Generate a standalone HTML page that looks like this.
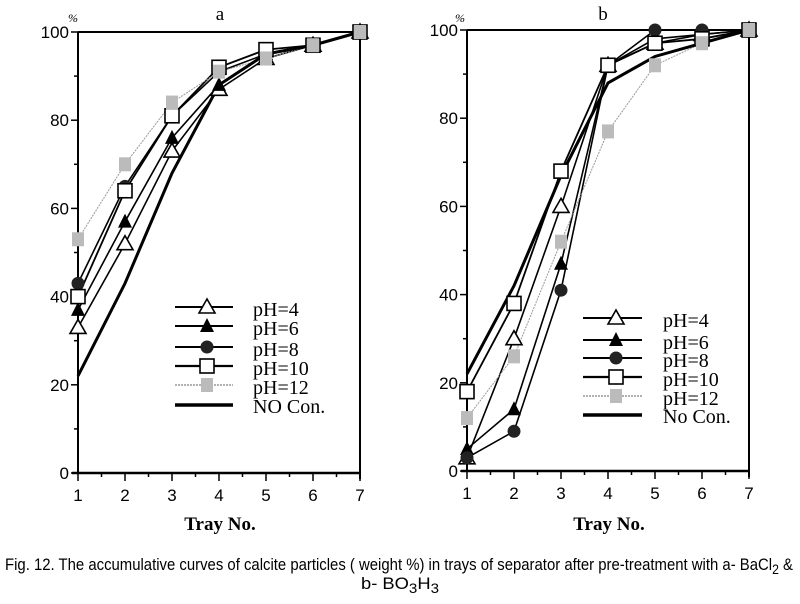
<!DOCTYPE html>
<html><head><meta charset="utf-8"><style>
html,body{margin:0;padding:0;background:#fff;width:800px;height:604px;overflow:hidden}
svg{display:block}
</style></head><body>
<svg id="s" width="800" height="604" xmlns="http://www.w3.org/2000/svg" font-family="Liberation Sans, sans-serif">
<text x="220" y="20" font-family="Liberation Serif, serif" font-size="19" text-anchor="middle">a</text>
<text x="603" y="20" font-family="Liberation Serif, serif" font-size="19" text-anchor="middle">b</text>
<text x="73" y="22" font-family="Liberation Serif, serif" font-style="italic" font-size="12" text-anchor="middle">%</text>
<text x="460" y="22" font-family="Liberation Serif, serif" font-style="italic" font-size="12" text-anchor="middle">%</text>
<text x="220" y="530" font-family="Liberation Serif, serif" font-weight="bold" font-size="19" text-anchor="middle">Tray No.</text>
<text x="609" y="530" font-family="Liberation Serif, serif" font-weight="bold" font-size="19" text-anchor="middle">Tray No.</text>
<text x="5" y="570" font-size="17" textLength="788" lengthAdjust="spacingAndGlyphs">Fig. 12. The accumulative curves of calcite particles ( weight %) in trays of separator after pre-treatment with a- BaCl<tspan dy="4" font-size="14">2</tspan><tspan dy="-4"> &amp;</tspan></text>
<text x="400" y="589" font-size="17" text-anchor="middle" textLength="78" lengthAdjust="spacingAndGlyphs">b- BO<tspan dy="4" font-size="14">3</tspan><tspan dy="-4">H</tspan><tspan dy="4" font-size="14">3</tspan></text>
</svg>
<script>
const s=document.getElementById('s');const NS='http://www.w3.org/2000/svg';
function el(t,a,txt){const e=document.createElementNS(NS,t);for(const k in a)e.setAttribute(k,a[k]);if(txt!=null)e.textContent=txt;s.appendChild(e);return e;}
function marker(type,x,y){
 if(type==='tri')el('polygon',{points:`${x},${y-8} ${x-8},${y+6} ${x+8},${y+6}`,fill:'#fff',stroke:'#000','stroke-width':1.6});
 if(type==='ftri')el('polygon',{points:`${x},${y-8} ${x-7},${y+6} ${x+7},${y+6}`,fill:'#000'});
 if(type==='circ')el('circle',{cx:x,cy:y,r:6.5,fill:'#222'});
 if(type==='sq')el('rect',{x:x-7,y:y-7,width:14,height:14,fill:'#fff',stroke:'#000','stroke-width':1.6});
 if(type==='gsq')el('rect',{x:x-6,y:y-7,width:12,height:14,fill:'#bbb'});
}
function chart(x0,y0,data,leg){
 const xs=i=>x0+(i-1)*47, ys=v=>y0-v*4.41;
 el('line',{x1:x0,y1:ys(100),x2:xs(7),y2:ys(100),stroke:'#000','stroke-width':2});
 el('line',{x1:x0,y1:ys(100),x2:x0,y2:y0,stroke:'#000','stroke-width':2});
 el('line',{x1:xs(7),y1:ys(100),x2:xs(7),y2:y0+6,stroke:'#000','stroke-width':2});
 el('line',{x1:x0-6,y1:y0,x2:xs(7),y2:y0,stroke:'#000','stroke-width':2.5});
 for(let v=0;v<=100;v+=10){const y=ys(v);el('line',{x1:x0-(v%20?4:7),y1:y,x2:x0,y2:y,stroke:'#000','stroke-width':1.5});
  if(v%20==0)el('text',{x:x0-9,y:y+6,'font-size':17,'text-anchor':'end'},v);}
 for(let i=1;i<=7;i+=0.5){const x=xs(i);el('line',{x1:x,y1:y0,x2:x,y2:y0+(i%1?4:8),stroke:'#000','stroke-width':1.5});
  if(i%1==0)el('text',{x:x,y:y0+28,'font-size':17,'text-anchor':'middle'},i);}
 data.forEach(d=>{const pts=d.v.map((v,i)=>xs(i+1)+','+ys(v)).join(' ');
  el('polyline',{points:pts,fill:'none',stroke:d.c,'stroke-width':d.w,'stroke-dasharray':d.da||'none'});});
 data.forEach(d=>{if(d.m)d.v.forEach((v,i)=>marker(d.m,xs(i+1),ys(v)));});
 data.forEach((d,k)=>{const y=leg.y[k];
  el('line',{x1:leg.x1,y1:y,x2:leg.x2,y2:y,stroke:d.c,'stroke-width':d.w+0.5,'stroke-dasharray':d.da||'none'});
  if(d.m)marker(d.m,leg.mx,y);
  el('text',{x:leg.tx,y:y+(k==5?8:9),'font-family':'Liberation Serif, serif','font-size':20},d.n);});
}
const sty=[{m:'tri',c:'#000',w:1.6},{m:'ftri',c:'#000',w:1.6},{m:'circ',c:'#000',w:1.6},{m:'sq',c:'#000',w:1.8},{m:'gsq',c:'#999',w:1,da:'2,1'},{m:null,c:'#000',w:3}];
function mk(vals,names){return vals.map((v,i)=>Object.assign({v:v,n:names[i]},sty[i]));}
chart(78,473,mk([[33,52,73,87,94,97,100],[37,57,76,88,95,97,100],[43,65,81,91,95,97,100],[40,64,81,92,96,97,100],[53,70,84,91,94,97,100],[22,43,68,88,95,97,100]],['pH=4','pH=6','pH=8','pH=10','pH=12','NO Con.']),
 {x1:175,x2:233,mx:207,tx:253,y:[307,326,347,366,385,405]});
chart(467,471,mk([[3,30,60,92,97,99,100],[5,14,47,92,98,99,100],[3,9,41,92,100,100,100],[18,38,68,92,97,98,100],[12,26,52,77,92,97,100],[22,42,67,88,94,97,100]],['pH=4','pH=6','pH=8','pH=10','pH=12','No Con.']),
 {x1:583,x2:642,mx:616,tx:663,y:[318,340,358,377,396,415]});
</script>
</body></html>
